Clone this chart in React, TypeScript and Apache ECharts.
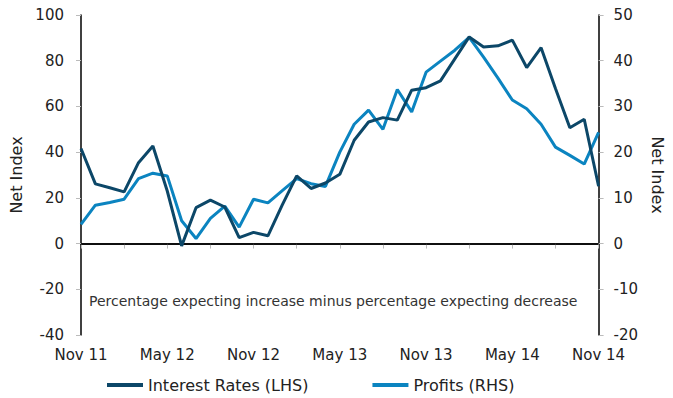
import React, { useEffect, useRef } from "react";
import * as echarts from "echarts";

const months = [
  "Nov 11", "Dec 11", "Jan 12", "Feb 12", "Mar 12", "Apr 12", "May 12", "Jun 12", "Jul 12", "Aug 12", "Sep 12", "Oct 12",
  "Nov 12", "Dec 12", "Jan 13", "Feb 13", "Mar 13", "Apr 13", "May 13", "Jun 13", "Jul 13", "Aug 13", "Sep 13", "Oct 13",
  "Nov 13", "Dec 13", "Jan 14", "Feb 14", "Mar 14", "Apr 14", "May 14", "Jun 14", "Jul 14", "Aug 14", "Sep 14", "Oct 14",
  "Nov 14",
];

const interestRates = [
  41.6, 26.1, 24.4, 22.6, 35.4, 42.7, 23, -1, 15.7, 19, 16, 2.6,
  4.9, 3.4, 16.9, 29.6, 24.1, 26.5, 30.3, 45.2, 53.2, 55.1, 54, 67.1,
  68.2, 71.2, 80.8, 90.4, 86, 86.5, 89, 77, 85.7, 67.8, 50.7, 54.4,
  25.1,
];

const profits = [
  4.2, 8.4, 9.0, 9.7, 14.2, 15.4, 14.8, 5.0, 1.1, 5.5, 8.2, 3.6,
  9.7, 8.9, 11.6, 14.2, 13.1, 12.5, 20.0, 26.1, 29.2, 25.0, 33.7, 28.8,
  37.5, 39.9, 42.3, 45.1, 40.8, 36.2, 31.4, 29.5, 26.1, 21.1, 19.3, 17.4,
  24.3,
];

const seriesNames = ["Interest Rates (LHS)", "Profits (RHS)"];
const axisTitle = "Net Index";
const note = "Percentage expecting increase minus percentage expecting decrease";

const FONT = "DejaVu Sans";
const TEXT = "#222";

export default function App() {
  const ref = useRef<HTMLDivElement>(null);
  useEffect(() => {
    if (!ref.current) return;
    const chart = echarts.init(ref.current, null, { renderer: "svg" });
    chart.setOption({
      animation: false,
      textStyle: { fontFamily: FONT },
      grid: { left: 81, right: 74, top: 15, bottom: 63 },
      legend: {
        left: 102,
        top: 372,
        icon: "rect",
        itemWidth: 36,
        itemHeight: 4,
        itemGap: 64,
        textStyle: { fontFamily: FONT, fontSize: 16, color: TEXT },
        data: seriesNames,
      },
      graphic: [
        {
          type: "text",
          left: 89,
          top: 294,
          style: { text: note, fontFamily: FONT, fontSize: 14, fill: "#333" },
        },
      ],
      xAxis: {
        type: "category",
        data: months,
        boundaryGap: false,
        axisLine: { lineStyle: { color: "#000", width: 1.5 } },
        axisTick: { interval: 2, length: 5, lineStyle: { color: "#bbb" } },
        axisLabel: { interval: 5, margin: 12, fontSize: 15, color: TEXT, fontFamily: FONT },
        splitLine: { show: false },
      },
      yAxis: [
        {
          type: "value",
          min: -40,
          max: 100,
          interval: 20,
          name: axisTitle,
          nameLocation: "middle",
          nameGap: 51,
          nameTextStyle: { fontSize: 16, color: TEXT, fontFamily: FONT },
          axisLine: { show: true, lineStyle: { color: "#000", width: 1.5 } },
          axisTick: { show: true, length: 5, lineStyle: { color: "#bbb" } },
          axisLabel: { margin: 17, fontSize: 15, color: TEXT, fontFamily: FONT },
          splitLine: { show: false },
        },
        {
          type: "value",
          min: -20,
          max: 50,
          interval: 10,
          position: "right",
          name: axisTitle,
          nameLocation: "middle",
          nameRotate: -90,
          nameGap: 46,
          nameTextStyle: { fontSize: 16, color: TEXT, fontFamily: FONT },
          axisLine: { show: true, lineStyle: { color: "#000", width: 1.5 } },
          axisTick: { show: true, length: 5, lineStyle: { color: "#bbb" } },
          axisLabel: { margin: 15, fontSize: 15, color: TEXT, fontFamily: FONT },
          splitLine: { show: false },
        },
      ],
      series: [
        {
          name: seriesNames[0],
          type: "line",
          yAxisIndex: 0,
          data: interestRates,
          showSymbol: false,
          symbol: "none",
          lineStyle: { color: "#0c4768", width: 3 },
          itemStyle: { color: "#0c4768" },
          z: 3,
          markLine: {
            silent: true,
            symbol: ["none", "none"],
            label: { show: false },
            lineStyle: { color: "#000", width: 1.5, type: "solid" },
            data: [{ yAxis: 0 }],
            z: 1,
          },
        },
        {
          name: seriesNames[1],
          type: "line",
          yAxisIndex: 1,
          data: profits,
          showSymbol: false,
          symbol: "none",
          lineStyle: { color: "#0b84c0", width: 3 },
          itemStyle: { color: "#0b84c0" },
          z: 2,
        },
      ],
    });
    return () => chart.dispose();
  }, []);
  return (
    <div
      ref={ref}
      style={{ position: "absolute", left: 0, top: 0, width: 673, height: 398 }}
    />
  );
}
